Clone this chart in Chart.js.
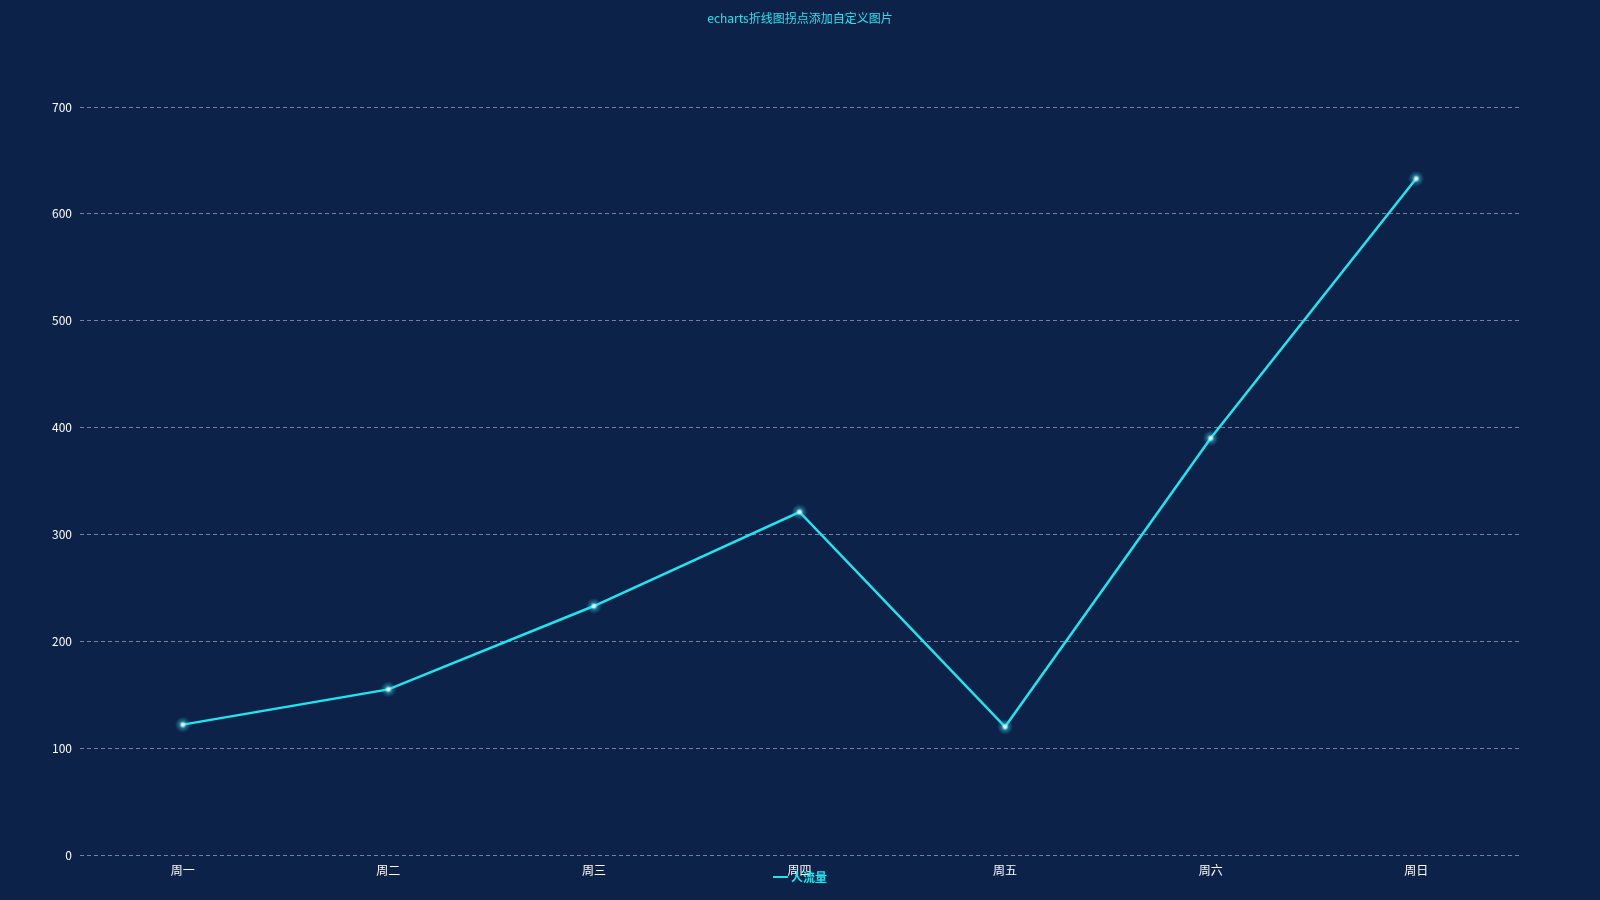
<!DOCTYPE html>
<html>
<head>
<meta charset="utf-8">
<script src="https://cdn.jsdelivr.net/npm/chart.js@4/dist/chart.umd.min.js"></script>
<style>
html,body{margin:0;padding:0;background:#0d2249;}
#wrap{width:1600px;height:900px;position:relative;}
</style>
</head>
<body>
<div id="wrap"><canvas id="c" width="1600" height="900"></canvas></div>
<script>
const chartTitle = 'echarts折线图拐点添加自定义图片';
const seriesName = '人流量';
const categories = ['周一','周二','周三','周四','周五','周六','周日'];
const values = [122, 155, 233, 321, 120, 390, 633];
const yTicks = [0, 100, 200, 300, 400, 500, 600, 700];

const FONT = '"Noto Sans CJK SC", "Noto Sans", sans-serif';
const CYAN = '#1ee6f0';

// glowing point image
function makePoint(){
  const s = 16, c = document.createElement('canvas');
  c.width = s; c.height = s;
  const g = c.getContext('2d');
  const grad = g.createRadialGradient(s/2, s/2, 0, s/2, s/2, s/2);
  grad.addColorStop(0, 'rgba(255,255,255,1)');
  grad.addColorStop(0.18, 'rgba(220,255,255,0.95)');
  grad.addColorStop(0.45, 'rgba(60,220,240,0.4)');
  grad.addColorStop(1, 'rgba(30,200,240,0)');
  g.fillStyle = grad;
  g.beginPath(); g.arc(s/2, s/2, s/2, 0, Math.PI*2); g.fill();
  return c;
}
const pointImg = makePoint();

const overlay = {
  id: 'overlay',
  afterDraw(chart){
    const ctx = chart.ctx;
    ctx.save();
    ctx.fillStyle = CYAN;
    ctx.font = '12px ' + FONT;
    ctx.textAlign = 'center';
    ctx.textBaseline = 'middle';
    ctx.fillText(chartTitle, 800, 18);
    // legend
    ctx.strokeStyle = CYAN;
    ctx.lineWidth = 2;
    ctx.beginPath(); ctx.moveTo(773, 877); ctx.lineTo(788, 877); ctx.stroke();
    ctx.textAlign = 'left';
    ctx.font = 'bold 12px ' + FONT;
    ctx.fillText(seriesName, 791, 877);
    ctx.restore();
  }
};

new Chart(document.getElementById('c'), {
  type: 'line',
  data: {
    labels: categories,
    datasets: [{
      label: seriesName,
      data: values,
      borderColor: CYAN,
      borderWidth: 2.5,
      tension: 0,
      pointStyle: pointImg,
      pointRadius: 8,
      pointHoverRadius: 8,
      fill: false
    }]
  },
  options: {
    responsive: false,
    animation: false,
    devicePixelRatio: 1,
    layout: { padding: { left: 0, right: 81, top: 107, bottom: 0 } },
    plugins: {
      legend: { display: false },
      title: { display: false },
      tooltip: { enabled: false }
    },
    scales: {
      x: {
        offset: true,
        grid: { display: false, drawTicks: false },
        border: { display: false },
        ticks: { color: '#ffffff', font: { size: 12, family: FONT }, padding: 8 },
        afterFit(s){ s.height = 45; }
      },
      y: {
        min: 0, max: 700,
        afterBuildTicks(s){ s.ticks = yTicks.map(v => ({ value: v })); },
        grid: { color: 'rgba(200,210,225,0.55)', lineWidth: 1, drawTicks: false },
        border: { display: false, dash: [4, 3] },
        ticks: { color: '#ffffff', font: { size: 12, family: FONT }, padding: 8 },
        afterFit(s){ s.width = 80; }
      }
    }
  },
  plugins: [overlay]
});
</script>
</body>
</html>
